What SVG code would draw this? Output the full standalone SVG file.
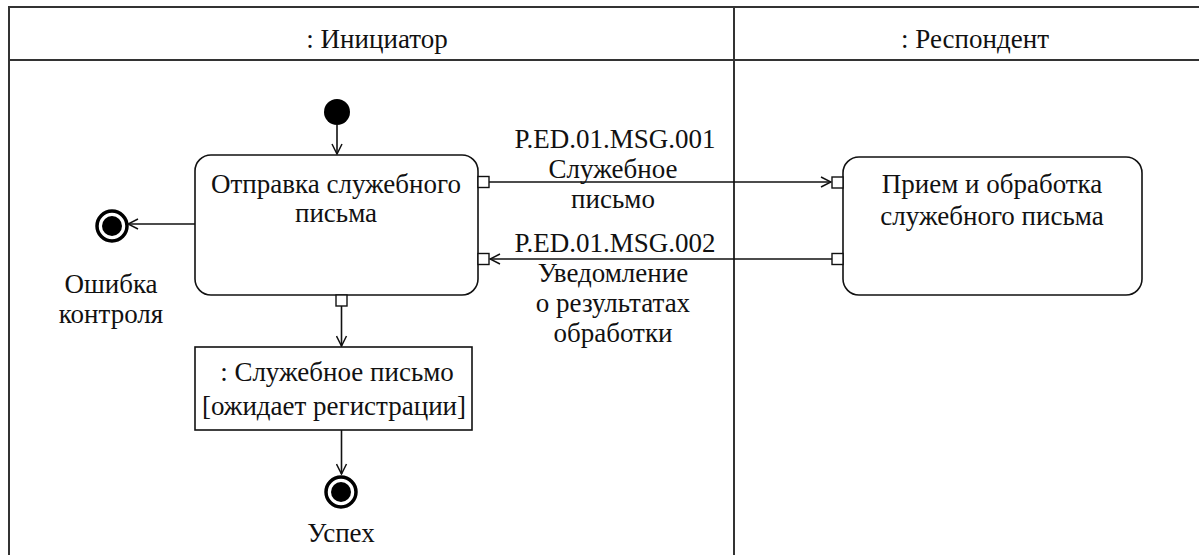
<svg xmlns="http://www.w3.org/2000/svg" width="1199" height="555" viewBox="0 0 1199 555">
<style>
.t{font-family:'Liberation Serif','Times New Roman',serif;font-size:27px;fill:#111;text-anchor:middle}
.frame{fill:none;stroke:#333;stroke-width:2}
.node{fill:#fff;stroke:#111;stroke-width:1.6}
.port{fill:#fff;stroke:#111;stroke-width:1.4}
.edge{fill:none;stroke:#111;stroke-width:1.6}
.final{fill:#fff;stroke:#000;stroke-width:3.5}
</style>
<defs>
<marker id="arr" viewBox="0 0 12 12" refX="11" refY="6" markerWidth="12" markerHeight="12" markerUnits="userSpaceOnUse" orient="auto">
<path d="M1,1 L11,6 L1,11" fill="none" stroke="#111" stroke-width="1.5"/>
</marker>
</defs>
<rect width="1199" height="555" fill="#fff"/>
<g id="lanes">
<path class="frame" d="M9,560 V7 H1205 M9,60 H1205 M734,7 V560"/>
<text class="t" x="377" y="48">: Инициатор</text>
<text class="t" x="975" y="48">: Респондент</text>
</g>
<g id="initial">
<circle cx="337" cy="112" r="13" fill="#000"/>
</g>
<g id="send">
<rect class="node" x="195" y="155" width="283" height="140" rx="16"/>
<text class="t" x="336" y="193">Отправка служебного</text>
<text class="t" x="336" y="222">письма</text>
<rect class="port" x="478" y="176.5" width="11" height="11"/>
<rect class="port" x="478" y="253.5" width="11" height="11"/>
<rect class="port" x="336" y="295" width="11" height="11"/>
</g>
<g id="receive">
<rect class="node" x="843" y="157" width="299" height="138" rx="16"/>
<text class="t" x="992" y="193">Прием и обработка</text>
<text class="t" x="992" y="225">служебного письма</text>
<rect class="port" x="832" y="177" width="11" height="11"/>
<rect class="port" x="832" y="253.5" width="11" height="11"/>
</g>
<g id="error">
<circle class="final" cx="112" cy="226" r="15"/>
<circle cx="112" cy="226" r="10" fill="#000"/>
<text class="t" x="111" y="293">Ошибка</text>
<text class="t" x="111" y="323">контроля</text>
</g>
<g id="letter">
<rect class="node" x="195" y="347" width="277" height="83"/>
<text class="t" x="337" y="381">: Служебное письмо</text>
<text class="t" x="334" y="415">[ожидает регистрации]</text>
</g>
<g id="success">
<circle class="final" cx="341" cy="492" r="15"/>
<circle cx="341" cy="492" r="10" fill="#000"/>
<text class="t" x="341" y="542">Успех</text>
</g>
<g id="connectors">
<path class="edge" d="M337,125 V154" marker-end="url(#arr)"/>
<path class="edge" d="M195,224 H128" marker-end="url(#arr)"/>
<path class="edge" d="M341.5,306 V346" marker-end="url(#arr)"/>
<path class="edge" d="M341.5,430 V474" marker-end="url(#arr)"/>
<path class="edge" d="M489,182 H831" marker-end="url(#arr)"/>
<path class="edge" d="M832,259 H490" marker-end="url(#arr)"/>
<text class="t" x="615" y="148">P.ED.01.MSG.001</text>
<text class="t" x="613" y="178">Служебное</text>
<text class="t" x="613" y="208">письмо</text>
<text class="t" x="615" y="252">P.ED.01.MSG.002</text>
<text class="t" x="613" y="282">Уведомление</text>
<text class="t" x="613" y="312">о результатах</text>
<text class="t" x="613" y="342">обработки</text>
</g>
</svg>
